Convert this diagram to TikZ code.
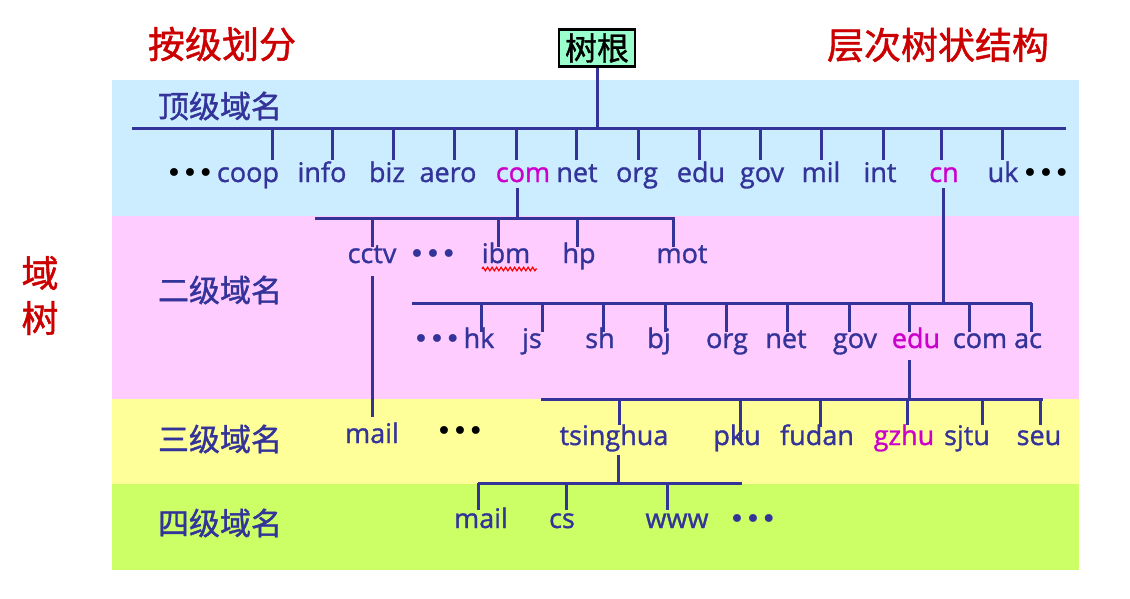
\documentclass[tikz,border=0pt]{standalone}
\usepackage{fontspec}
\setmainfont{Open Sans}[FakeBold=1.2]
\newfontfamily\cjk{Noto Sans CJK SC}[FakeBold=1.2]
\newfontfamily\dvs{DejaVu Sans}
\usetikzlibrary{decorations.pathmorphing}
\definecolor{navy}{HTML}{333399}
\definecolor{mag}{HTML}{CC00CC}
\definecolor{tred}{HTML}{CC0000}
\definecolor{bandblue}{HTML}{CCECFF}
\definecolor{bandpink}{HTML}{FFCCFF}
\definecolor{bandyellow}{HTML}{FFFF99}
\definecolor{bandgreen}{HTML}{CCFF66}
\definecolor{mint}{HTML}{99FFCC}
\begin{document}
\begin{tikzpicture}[x=1pt,y=-1pt,
  conn/.style={draw=navy,line width=3pt},
  lbl/.style={font=\fontsize{27}{27}\selectfont,text=navy,inner sep=0pt,anchor=base},
  hl/.style={lbl,text=mag},
  dots/.style={font=\dvs\fontsize{27}{27}\selectfont,inner sep=0pt,anchor=base},
  lvl/.style={font=\cjk\fontsize{31}{31}\selectfont,text=navy,inner sep=0pt},
  ttl/.style={font=\cjk\fontsize{37}{37}\selectfont,text=tred,inner sep=0pt}]
\useasboundingbox (0,0) rectangle (1130,598);
\fill[white] (0,0) rectangle (1130,598);
% bands
\fill[bandblue] (112,80) rectangle (1079,216);
\fill[bandpink] (112,216) rectangle (1079,399);
\fill[bandyellow] (112,399) rectangle (1079,484);
\fill[bandgreen] (112,484) rectangle (1079,570);
% titles
\node[ttl] (t1) at (222,44) {按级划分};
\node[ttl] (t2) at (938,45) {层次树状结构};
\node[ttl] (t3) at (40,273) {域};
\node[ttl] (t4) at (40,318) {树};
% level names
\node[lvl] (l1) at (220,106) {顶级域名};
\node[lvl] (l2) at (220,290) {二级域名};
\node[lvl] (l3) at (220,439) {三级域名};
\node[lvl] (l4) at (220,523) {四级域名};
% root
\node[draw=black,line width=2.5pt,fill=mint,minimum width=76pt,minimum height=37pt,inner sep=0pt,
  font=\cjk\fontsize{32}{32}\selectfont] (root) at (597,48) {树根};
\coordinate (b1l) at (132,128);
\coordinate (b1r) at (1066,128);
\draw[conn] (root.south) -- (root.south |- b1l);
\draw[conn] (b1l) -- (b1r);
% top level
\node[dots] (d1) at (190,182) {•••};
\node[dots] (d2) at (1046,182) {•••};
\foreach \n/\x/\tx in {coop/248/272,info/322/332,biz/387/393,aero/448/454,net/577/576,org/637/638,edu/701/699,gov/762/760,mil/821/821,int/880/883,uk/1003/1002}{
  \node[lbl] (t-\n) at (\x,182) {\n};
  \draw[conn] (\tx,128) -- (\tx,160);
}
\node[hl] (t-com) at (523,182) {com};
\draw[conn] (516,128) -- (516,160);
\node[hl] (t-cn) at (944,182) {cn};
\draw[conn] (941,128) -- (941,160);
% com branch
\coordinate (b2l) at (315,218);
\coordinate (b2r) at (675,218);
\draw[conn] (517,188) -- (517,218);
\draw[conn] (b2l) -- (b2r);
\node[lbl] (cctv) at (372,263) {cctv};
\node[dots,text=navy] (d3) at (433,263) {•••};
\node[lbl] (ibm) at (506,263) {ibm};
\node[lbl] (hp) at (579,263) {hp};
\node[lbl] (mot) at (682,263) {mot};
\foreach \tx in {372,498,577,673}{\draw[conn] (\tx,218) -- (\tx,247);}
\draw[red,line width=1.2pt,decorate,decoration={zigzag,segment length=4.5pt,amplitude=1.8pt}] (482,269) -- (537,269);
\draw[conn] (372,276) -- (372,417);
\node[lbl] (mail1) at (372,443) {mail};
\node[dots,text=black] (d4) at (460,440) {•••};
% cn branch
\coordinate (b3l) at (412,303);
\coordinate (b3r) at (1032,303);
\draw[conn] (943,188) -- (943,303);
\draw[conn] (b3l) -- (b3r);
\node[dots,text=navy] (d5) at (437,348) {•••};
\foreach \n/\x/\tx in {hk/479/481,js/532/542,sh/600/603,bj/659/665,org/727/726,net/786/787,gov/855/849,com/980/969,ac/1028/1031}{
  \node[lbl] (c-\n) at (\x,348) {\n};
  \draw[conn] (\tx,303) -- (\tx,332);
}
\node[hl] (c-edu) at (916,348) {edu};
\draw[conn] (909,303) -- (909,332);
% edu branch
\coordinate (b4l) at (541,399);
\coordinate (b4r) at (1043,399);
\draw[conn] (909,360) -- (909,399);
\draw[conn] (b4l) -- (b4r);
\node[lbl] (tsinghua) at (614,445) {tsinghua};
\node[lbl] (pku) at (737,445) {pku};
\node[lbl] (fudan) at (817,445) {fudan};
\node[hl] (gzhu) at (904,445) {gzhu};
\node[lbl] (sjtu) at (967,445) {sjtu};
\node[lbl] (seu) at (1039,445) {seu};
\foreach \tx/\e in {619/425,740/442,820/427,907/425,982/425,1040/425}{\draw[conn] (\tx,399) -- (\tx,\e);}
% tsinghua branch
\coordinate (b5l) at (478,483);
\coordinate (b5r) at (742,483);
\draw[conn] (618,455) -- (618,483);
\draw[conn] (b5l) -- (b5r);
\node[lbl] (mail2) at (481,528) {mail};
\node[lbl] (cs) at (562,528) {cs};
\node[lbl] (www) at (677,528) {www};
\node[dots,text=navy] (d6) at (753,528) {•••};
\foreach \tx in {478,566,667}{\draw[conn] (\tx,483) -- (\tx,510);}
\end{tikzpicture}
\end{document}
